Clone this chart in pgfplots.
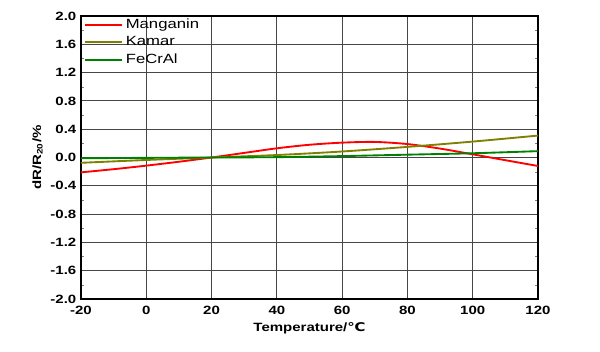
\documentclass[border=0pt]{standalone}
\usepackage{pgfplots}
\pgfplotsset{compat=1.18}
\usepackage{fontspec}
\setmainfont{Liberation Sans}[FakeStretch=1.25]
\newfontfamily\djv{DejaVu Sans}[FakeStretch=1.25]
\definecolor{kamar}{RGB}{128,128,0}
\definecolor{fecr}{RGB}{0,128,0}
\definecolor{gridc}{RGB}{70,70,70}
\begin{document}
\begin{tikzpicture}
\begin{axis}[
  name=ax,
  scale only axis,
  width=342.75pt, height=212.25pt,
  xmin=-20, xmax=120, ymin=-2, ymax=2,
  xtick={-20,0,...,120},
  ytick={-2,-1.6,...,2.01},
  minor y tick num=1,
  tick align=inside,
  major tick length=0pt,
  minor tick length=2pt,
  grid=major,
  major grid style={gridc, line width=0.8pt},
  axis line style={black, line width=1pt},
  /pgf/number format/assume math mode=true,
  /pgf/number format/fixed,
  /pgf/number format/fixed zerofill,
  /pgf/number format/precision=1,
  xticklabel style={/pgf/number format/precision=0, /pgf/number format/fixed zerofill=false, yshift=-1.5pt},
  ticklabel style={font=\bfseries\fontsize{9}{10}\selectfont},
  xlabel={\textbf{Temperature/}{\djv\bfseries ℃}},
  xlabel style={font=\bfseries\fontsize{9}{10}\selectfont, yshift=1pt},
  ylabel={\textbf{dR/R\textsubscript{20}/\%}},
  ylabel style={font=\bfseries\fontsize{9}{10}\selectfont, yshift=-1pt},
  legend style={draw=none, fill=none, at={(0.003,1.005)}, anchor=north west,
    font=\fontsize{10}{11}\selectfont, row sep=0.6pt, inner sep=1pt},
  legend cell align=left,
  legend image code/.code={\draw[#1] (0pt,0pt) -- (28pt,0pt);},
]
\addplot[red, line width=1.4pt, smooth] coordinates {
(-20,-0.21) (-10,-0.165) (0,-0.115) (10,-0.06) (20,0) (30,0.065) (40,0.13) (50,0.18) (60,0.21) (70,0.22) (80,0.19) (90,0.126) (100,0.045) (110,-0.038) (120,-0.12)};
\addlegendentry{Manganin}
\addplot[kamar, line width=1.4pt, smooth] coordinates {
(-20,-0.075) (0,-0.035) (20,0) (40,0.035) (60,0.085) (80,0.15) (100,0.225) (120,0.31)};
\addlegendentry{Kamar}
\addplot[fecr, line width=1.4pt, smooth] coordinates {
(-20,-0.01) (0,-0.005) (20,0) (40,0.005) (60,0.02) (80,0.04) (100,0.06) (120,0.09)};
\addlegendentry{FeCrAl}
\end{axis}
\path ([xshift=-60.75pt,yshift=-39pt]ax.south west) rectangle ([xshift=46.5pt,yshift=12pt]ax.north east);
\end{tikzpicture}
\end{document}
